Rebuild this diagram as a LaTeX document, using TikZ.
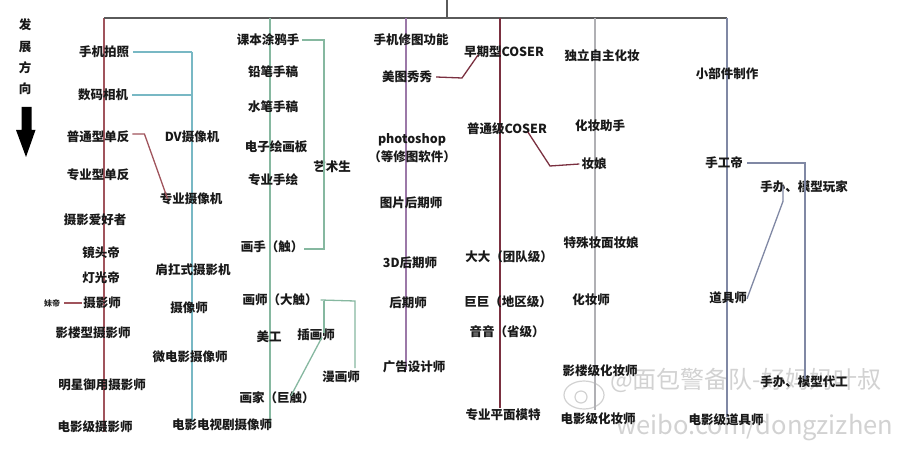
\documentclass[tikz,border=0pt]{standalone}
\usepackage{fontspec}
\setmainfont{Noto Sans CJK SC}
\definecolor{photoC}{HTML}{A0545C}
\definecolor{videoC}{HTML}{78B8C4}
\definecolor{artC}{HTML}{86B8A0}
\definecolor{postC}{HTML}{9C78A8}
\definecolor{cosC}{HTML}{7A3040}
\definecolor{makeC}{HTML}{B0B0B4}
\definecolor{propC}{HTML}{8088A4}
\definecolor{topC}{HTML}{5A5A5A}
\tikzset{
  lbl/.style={font=\fontsize{12.5}{14}\selectfont\bfseries, inner sep=0pt, text=black!90},
  tiny/.style={font=\fontsize{8}{9}\selectfont\bfseries, inner sep=0pt, text=black!85},
  mainline/.style={line width=1.8pt},
  conn/.style={line width=1.3pt},
  wm/.style={font=\fontsize{24}{26}\selectfont, inner sep=0pt, text=gray!35},
}
\begin{document}
\begin{tikzpicture}[x=1pt,y=-1pt]
\useasboundingbox (0,0) rectangle (909,457);
\fill[white] (0,0) rectangle (909,457);

% ---- watermark (behind)
\draw[gray!35,line width=1.2pt] (584,395) ellipse [x radius=20pt, y radius=14pt];
\draw[gray!35,line width=1.2pt] (581,397) circle [radius=6pt];
\node[wm,anchor=west] (wm1) at (610,380) {@面包警备队-好妈妈叶叔};
\node[wm,anchor=west,font=\fontsize{25.5}{27}\selectfont] (wm2) at (616,428) {weibo.com/dongzizhen};

% ---- main structure
\coordinate (t0) at (447,0);
\coordinate (t1) at (447,18);
\coordinate (cR) at (104,18);  \coordinate (cRb) at (104,432);
\coordinate (cG) at (270,18);  \coordinate (cGb) at (270,428);
\coordinate (cP) at (406,18);  \coordinate (cPb) at (406,370);
\coordinate (cC) at (500,18);  \coordinate (cCb) at (500,408);
\coordinate (cM) at (595,18);  \coordinate (cMb) at (595,410);
\coordinate (cB) at (727,18);  \coordinate (cBb) at (727,417);
\coordinate (vT) at (192,52);  \coordinate (vM) at (192,95); \coordinate (vB) at (192,422);

\draw[topC,mainline] (t0) -- (t1);
\draw[photoC,mainline] (cRb) -- (cR);
\draw[topC,mainline] (cR) -- (cB);
\draw[artC,mainline] (cG) -- (cGb);
\draw[postC,mainline] (cP) -- (cPb);
\draw[cosC,mainline] (cC) -- (cCb);
\draw[makeC,mainline] (cM) -- (cMb);
\draw[propC,mainline] (cB) -- (cBb);
\draw[videoC,mainline] (vT) -- (vB);

% ---- direction
\node[lbl] (d1) at (25,25) {发};
\node[lbl] (d2) at (25,47) {展};
\node[lbl] (d3) at (25,68) {方};
\node[lbl] (d4) at (25,89) {向};
\fill[black] (21.5,107) -- (31.5,107) -- (31.5,130) -- (35.5,130) -- (26,157) -- (16,130) -- (21.5,130) -- cycle;

% ---- photography
\node[lbl] (ph1) at (104,52) {手机拍照};
\node[lbl] (ph2) at (103,95) {数码相机};
\node[lbl] (ph3) at (98,137) {普通型单反};
\node[lbl] (ph4) at (98,175) {专业型单反};
\node[lbl] (ph5) at (95,220) {摄影爱好者};
\node[lbl] (ph6) at (101,253) {镜头帝};
\node[lbl] (ph7) at (101,278) {灯光帝};
\node[lbl] (ph8) at (102,303) {摄影师};
\node[tiny] (ph8b) at (52,303) {妹帝};
\node[lbl] (ph9) at (93,333) {影楼型摄影师};
\node[lbl] (ph10) at (102,385) {明星御用摄影师};
\node[lbl] (ph11) at (95,427) {电影级摄影师};

% ---- video
\node[lbl] (vd1) at (192,137) {DV摄像机};
\node[lbl] (vd2) at (191,199) {专业摄像机};
\node[lbl] (vd3) at (193,270) {肩扛式摄影机};
\node[lbl] (vd4) at (189,308) {摄像师};
\node[lbl] (vd5) at (190,357) {微电影摄像师};
\node[lbl] (vd6) at (222,425) {电影电视剧摄像师};

% ---- art
\node[lbl] (ar1) at (268,40) {课本涂鸦手};
\node[lbl] (ar2) at (273,72) {铅笔手稿};
\node[lbl] (ar3) at (273,107) {水笔手稿};
\node[lbl] (ar4) at (276,147) {电子绘画板};
\node[lbl] (ar5) at (273,180) {专业手绘};
\node[lbl] (ar6) at (332,167) {艺术生};
\node[lbl] (ar7) at (272,247) {画手（触）};
\node[lbl] (ar8) at (280,300) {画师（大触）};
\node[lbl] (ar9) at (269,337) {美工};
\node[lbl] (ar10) at (316,335) {插画师};
\node[lbl] (ar11) at (341,377) {漫画师};
\node[lbl] (ar12) at (277,398) {画家（巨触）};

% ---- post
\node[lbl] (po1) at (411,40) {手机修图功能};
\node[lbl] (po2) at (407,77) {美图秀秀};
\node[lbl] (po3) at (412,140) {photoshop};
\node[lbl] (po4) at (412,157) {（等修图软件）};
\node[lbl] (po5) at (411,203) {图片后期师};
\node[lbl] (po6) at (410,263) {3D后期师};
\node[lbl] (po7) at (408,303) {后期师};
\node[lbl] (po8) at (414,367) {广告设计师};

% ---- cosplay / model
\node[lbl] (co1) at (504,52) {早期型COSER};
\node[lbl] (co2) at (507,129) {普通级COSER};
\node[lbl] (co3) at (509,257) {大大（团队级）};
\node[lbl] (co4) at (508,302) {巨巨（地区级）};
\node[lbl] (co5) at (507,332) {音音（省级）};
\node[lbl] (co6) at (503,415) {专业平面模特};

% ---- makeup
\node[lbl] (mk1) at (602,56) {独立自主化妆};
\node[lbl] (mk2) at (600,126) {化妆助手};
\node[lbl] (mk3) at (594,164) {妆娘};
\node[lbl] (mk4) at (601,243) {特殊妆面妆娘};
\node[lbl] (mk5) at (591,300) {化妆师};
\node[lbl] (mk6) at (600,371) {影楼级化妆师};
\node[lbl] (mk7) at (598,419) {电影级化妆师};

% ---- props
\node[lbl] (pr1) at (727,74) {小部件制作};
\node[lbl] (pr2) at (724,163) {手工帝};
\node[lbl] (pr3) at (804,187) {手办、模型玩家};
\node[lbl] (pr4) at (728,298) {道具师};
\node[lbl] (pr5) at (804,382) {手办、模型代工};
\node[lbl] (pr6) at (726,420) {电影级道具师};

% ---- connectors
\draw[videoC,conn] ([xshift=4pt]ph1.east) -- (vT);
\draw[videoC,conn] ([xshift=4pt]ph2.east) -- (vM);
\draw[photoC,conn] ([shift={(3pt,3pt)}]ph3.east) -- ++(12,0) -- ([shift={(8pt,-6pt)}]vd2.north west);
\draw[photoC,conn] ([xshift=4pt]ph8b.east) -- ([xshift=-1pt]ph8.west);

\draw[artC,conn] ([xshift=3pt]ar1.east) -- (324,40) -- (324,249) -- ([xshift=1pt]ar7.east |- 0,249);
\draw[artC,conn] ([xshift=3pt]ar8.east) -- (355,301) -- (355,368);
\draw[artC,conn] (324,301) -- ([shift={(8pt,-4pt)}]ar10.north);
\draw[artC,conn] ([shift={(6pt,4pt)}]ar10.south) -- ([shift={(14pt,-4pt)}]ar12.north);

\draw[cosC,conn] ([xshift=4pt]po2.east) -- (462,78) -- ([shift={(-26pt,3pt)}]co1.south);
\draw[cosC,conn] ([shift={(21pt,3pt)}]co2.south) -- (550,166) -- ([xshift=-2pt]mk3.west);

\draw[propC,conn] ([xshift=4pt]pr2.east) -- (805,163) -- ([shift={(1pt,-3pt)}]pr5.north);
\draw[propC,conn] ([shift={(-21pt,8pt)}]pr3.south) -- ++(0,16) -- ([shift={(19pt,-7pt)}]pr4.north);
\end{tikzpicture}
\end{document}
